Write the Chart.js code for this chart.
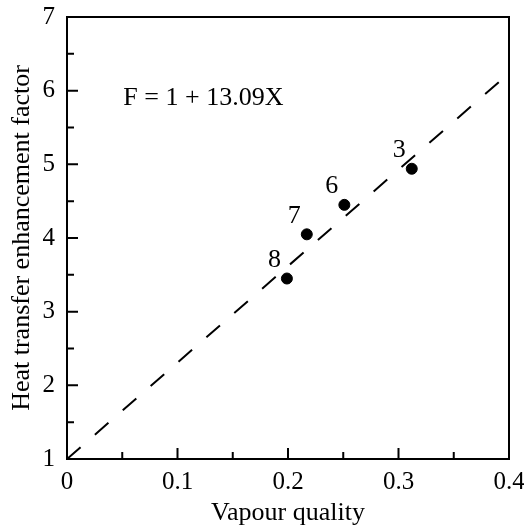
<!DOCTYPE html>
<html>
<head>
<meta charset="utf-8">
<script src="https://cdn.jsdelivr.net/npm/chart.js@4.4.0/dist/chart.umd.min.js"></script>
<style>
  html, body { margin: 0; padding: 0; background: #fff; }
  #wrap { width: 524px; height: 532px; }
</style>
</head>
<body>
<div id="wrap"><canvas id="chart"></canvas></div>
<script>
// data
var run_labels = ['8', '7', '6', '3'];
var quality = [0.199, 0.217, 0.251, 0.312];
var factor = [3.45, 4.05, 4.45, 4.94];
// fitted line F = 1 + 13.09X, end points
var fit_x = [0, 0.4];
var fit_y = [1, 6.236];
var equation_text = 'F = 1 + 13.09X';
var equation_at = [0.051, 5.9];

var serif = '"Liberation Serif", "Times New Roman", serif';

function toPoints(xs, ys) {
  return xs.map(function(x, i){ return {x: x, y: ys[i]}; });
}

// inward ticks, frame, point numbers and the equation
var decorPlugin = {
  id: 'decor',
  afterDraw: function(chart) {
    var ctx = chart.ctx;
    var area = chart.chartArea;
    var xs = chart.scales.x, ys = chart.scales.y;
    ctx.save();
    ctx.strokeStyle = '#000';
    ctx.lineWidth = 2;
    ctx.strokeRect(area.left, area.top, area.right - area.left, area.bottom - area.top);

    ctx.lineWidth = 2;
    ctx.beginPath();
    for (var v = xs.min; v <= xs.max + 1e-9; v += 0.05) {
      var px = xs.getPixelForValue(v);
      var major = Math.abs(Math.round(v * 10) - v * 10) < 1e-6;
      var len = major ? 11 : 7;
      ctx.moveTo(px, area.bottom);
      ctx.lineTo(px, area.bottom - len);
    }
    for (var w = ys.min; w <= ys.max + 1e-9; w += 0.5) {
      var py = ys.getPixelForValue(w);
      var majorY = Math.abs(Math.round(w) - w) < 1e-6;
      var lenY = majorY ? 11 : 7;
      ctx.moveTo(area.left, py);
      ctx.lineTo(area.left + lenY, py);
    }
    ctx.stroke();

    ctx.fillStyle = '#000';
    ctx.font = '26px ' + serif;
    ctx.textAlign = 'center';
    ctx.textBaseline = 'middle';
    var meta = chart.getDatasetMeta(1);
    meta.data.forEach(function(pt, i){
      ctx.fillText(run_labels[i], pt.x - 12.5, pt.y - 18.5);
    });

    ctx.textAlign = 'left';
    ctx.fillText(equation_text, xs.getPixelForValue(equation_at[0]), ys.getPixelForValue(equation_at[1]));
    ctx.restore();
  }
};

var ctx = document.getElementById('chart').getContext('2d');
var chart = new Chart(ctx, {
  type: 'scatter',
  data: {
    datasets: [{
      type: 'line',
      data: toPoints(fit_x, fit_y),
      borderColor: '#000',
      borderWidth: 2,
      borderDash: [18, 19],
      pointRadius: 0,
      fill: false
    }, {
      data: toPoints(quality, factor),
      backgroundColor: '#000',
      borderColor: '#000',
      pointRadius: 5.5,
      pointHoverRadius: 5.5
    }]
  },
  options: {
    responsive: true,
    maintainAspectRatio: false,
    animation: false,
    events: [],
    layout: { padding: { left: 7, top: 17, right: 15, bottom: 3 } },
    plugins: {
      legend: { display: false },
      tooltip: { enabled: false }
    },
    scales: {
      x: {
        type: 'linear',
        min: 0, max: 0.4,
        grid: { display: false, drawTicks: false },
        border: { display: false },
        afterFit: function(scale) {
          scale.height = 70;
          scale.paddingLeft = 0;
          scale.paddingRight = 0;
        },
        ticks: {
          stepSize: 0.1,
          padding: 8,
          color: '#000',
          font: { family: serif, size: 25 },
          callback: function(v){ return String(Number(v.toFixed(2))); }
        },
        title: {
          display: true,
          text: 'Vapour quality',
          color: '#000',
          font: { family: serif, size: 26 },
          padding: { top: 0, bottom: 0 }
        }
      },
      y: {
        type: 'linear',
        min: 1, max: 7,
        grid: { display: false, drawTicks: false },
        border: { display: false },
        afterFit: function(scale) {
          scale.width = 60;
          scale.paddingTop = 0;
          scale.paddingBottom = 0;
        },
        ticks: {
          stepSize: 1,
          padding: 12,
          color: '#000',
          font: { family: serif, size: 25 }
        },
        title: {
          display: true,
          text: 'Heat transfer enhancement factor',
          color: '#000',
          font: { family: serif, size: 26 },
          padding: { top: 0, bottom: 0 }
        }
      }
    }
  },
  plugins: [decorPlugin]
});
</script>
</body>
</html>
